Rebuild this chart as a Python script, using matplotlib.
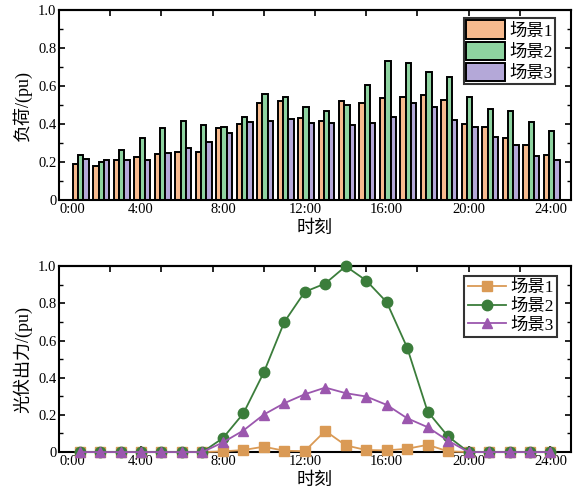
import numpy as np
import matplotlib
matplotlib.use('Agg')
import matplotlib.pyplot as plt
from matplotlib.ticker import MultipleLocator

plt.rcParams['font.family'] = ['Liberation Serif', 'Noto Sans CJK SC']
plt.rcParams['axes.unicode_minus'] = False

hours = np.arange(1, 25)
xtick_pos = [0, 4, 8, 12, 16, 20, 24]
xtick_labels = ['0:00', '4:00', '8:00', '12:00', '16:00', '20:00', '24:00']
names = ['场景1', '场景2', '场景3']

# load (pu)
load_s1 = [0.189, 0.179, 0.209, 0.225, 0.242, 0.253, 0.253, 0.381, 0.398, 0.512, 0.519, 0.432,
           0.418, 0.521, 0.509, 0.537, 0.540, 0.551, 0.528, 0.400, 0.382, 0.326, 0.288, 0.239]
load_s2 = [0.239, 0.200, 0.265, 0.326, 0.379, 0.418, 0.395, 0.386, 0.435, 0.560, 0.544, 0.488,
           0.467, 0.498, 0.604, 0.730, 0.723, 0.674, 0.646, 0.544, 0.481, 0.470, 0.409, 0.361]
load_s3 = [0.214, 0.212, 0.209, 0.212, 0.249, 0.275, 0.307, 0.351, 0.409, 0.418, 0.425, 0.407,
           0.404, 0.393, 0.407, 0.437, 0.509, 0.489, 0.421, 0.386, 0.333, 0.291, 0.232, 0.212]

# PV output (pu)
pv_s1 = [0, 0, 0, 0, 0, 0, 0, 0.004, 0.011, 0.029, 0.007, 0.005,
         0.114, 0.036, 0.011, 0.009, 0.018, 0.039, 0.004, 0, 0, 0, 0, 0]
pv_s2 = [0, 0, 0, 0, 0, 0, 0, 0.075, 0.208, 0.429, 0.700, 0.862,
         0.907, 1.000, 0.923, 0.807, 0.562, 0.218, 0.084, 0, 0, 0, 0, 0]
pv_s3 = [0, 0, 0, 0, 0, 0, 0, 0.052, 0.116, 0.202, 0.263, 0.311,
         0.347, 0.317, 0.299, 0.254, 0.182, 0.134, 0.061, 0, 0, 0, 0, 0]

bar_colors = ['#F6BA8E', '#8ED3A0', '#B4A8D8']
line_colors = ['#DA9A55', '#3B7D3B', '#9B57AE']
markers = ['s', 'o', '^']

fig = plt.figure(figsize=(5.85, 4.93), dpi=100)
ax1 = fig.add_axes([0.101, 0.594, 0.875, 0.386])
ax2 = fig.add_axes([0.101, 0.083, 0.875, 0.377])


def style_axis(ax, ylabel):
    ax.set_xlim(0, 25)
    ax.set_ylim(0, 1.0)
    ax.set_xticks(xtick_pos)
    ax.set_xticklabels(xtick_labels, fontsize=10.5)
    ax.get_xticklabels()[0].set_horizontalalignment('left')
    ax.set_yticks([0, 0.2, 0.4, 0.6, 0.8, 1.0])
    ax.set_yticklabels(['0', '0.2', '0.4', '0.6', '0.8', '1.0'], fontsize=10.5)
    ax.yaxis.set_minor_locator(MultipleLocator(0.1))
    ax.tick_params(axis='both', which='major', direction='in', length=4, width=1.2,
                   top=False, right=True, pad=2)
    ax.tick_params(axis='y', which='minor', direction='in', length=3, width=1.0, right=True)
    top = ax.secondary_xaxis('top')
    top.set_xticks(np.arange(0, 25.1, 2.5))
    top.set_xticklabels([])
    top.tick_params(direction='in', length=4, width=1.2)
    for sp in list(ax.spines.values()) + list(top.spines.values()):
        sp.set_linewidth(1.5)
    ax.set_xlabel('时刻', fontsize=13, labelpad=3)
    ax.set_ylabel(ylabel, fontsize=13, labelpad=4)


w = 0.26
for i, (vals, c, n) in enumerate(zip([load_s1, load_s2, load_s3], bar_colors, names)):
    ax1.bar(hours + (i - 1) * w + 0.06, vals, width=w, color=c, edgecolor='black',
            linewidth=1.4, label=n, zorder=2)
style_axis(ax1, '负荷/(pu)')
leg1 = ax1.legend(loc='upper right', bbox_to_anchor=(0.969, 0.958), fontsize=12.5,
                  frameon=True, fancybox=False, edgecolor='black', borderpad=0.15,
                  labelspacing=0.12, handlelength=2.2, handleheight=1.25,
                  handletextpad=0.25, borderaxespad=0.0)
leg1.get_frame().set_linewidth(1.5)

for vals, c, m, n in zip([pv_s1, pv_s2, pv_s3], line_colors, markers, names):
    ax2.plot(hours, vals, color=c, marker=m, markersize=7.5, linewidth=1.3, label=n,
             clip_on=False, zorder=3)
style_axis(ax2, '光伏出力/(pu)')
leg2 = ax2.legend(loc='upper right', bbox_to_anchor=(0.973, 0.946), fontsize=12.5,
                  frameon=True, fancybox=False, edgecolor='black', borderpad=0.2,
                  labelspacing=0.15, handlelength=2.2, handletextpad=0.25,
                  borderaxespad=0.0)
leg2.get_frame().set_linewidth(1.5)

fig.savefig('out.png', dpi=100)
